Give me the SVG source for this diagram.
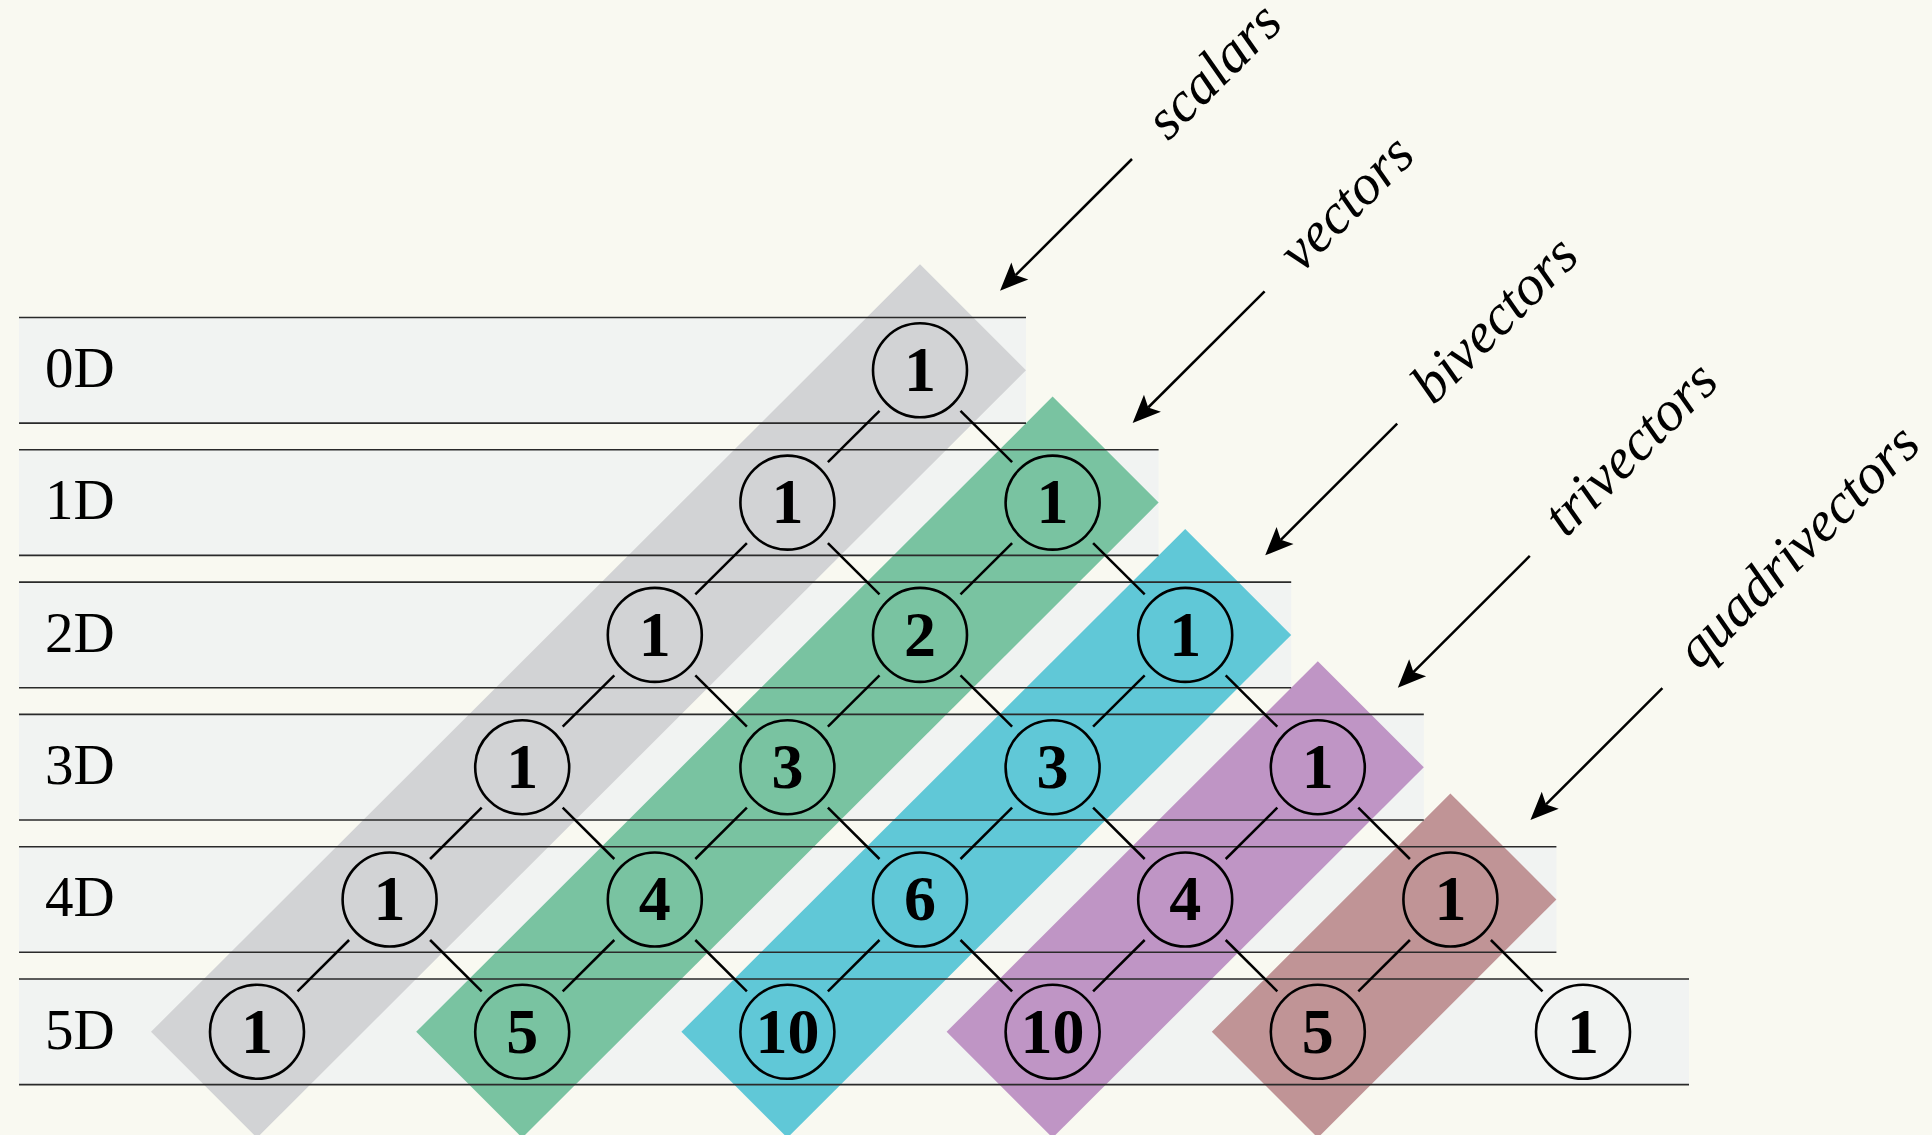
<svg xmlns="http://www.w3.org/2000/svg" width="1932" height="1135" viewBox="0 0 1932 1135">
<style>
.band{fill:#f1f3f2}
.bl{stroke:#2a2a2a;stroke-width:1.6;fill:none}
.s0{fill:#d2d3d5}.s1{fill:#79c3a1}.s2{fill:#60c8d7}.s3{fill:#bf95c5}.s4{fill:#c09496}
.node circle{fill:none;stroke:#000;stroke-width:2.6}
.node text{font-family:"Liberation Serif","Times New Roman",serif;font-weight:bold;font-size:64px;text-anchor:middle;fill:#000}
.row{font-family:"Liberation Serif","Times New Roman",serif;font-size:57px;fill:#000}
.lab{font-family:"Liberation Serif","Times New Roman",serif;font-style:italic;font-size:57px;fill:#000}
#connectors line{stroke:#000;stroke-width:2.5}
.arr{stroke:#000;stroke-width:2.5;fill:none;marker-end:url(#ah)}
</style>
<defs>
<marker id="ah" markerUnits="userSpaceOnUse" viewBox="-10 -15 35 30" markerWidth="35" markerHeight="30" refX="0" refY="0" orient="auto" overflow="visible">
<path d="M22,0 L-6,-12 L0,0 L-6,12 Z" fill="#000"/>
</marker>
</defs>
<rect width="1932" height="1135" fill="#f9f9f1"/>
<g id="bands">
<rect class="band" x="19" y="317.5" width="1007" height="105.6"/>
<rect class="band" x="19" y="449.8" width="1139.6" height="105.6"/>
<rect class="band" x="19" y="582.1" width="1272.2" height="105.6"/>
<rect class="band" x="19" y="714.4" width="1404.8" height="105.6"/>
<rect class="band" x="19" y="846.7" width="1537.4" height="105.6"/>
<rect class="band" x="19" y="979" width="1670" height="105.6"/>
</g>
<g id="strips">
<polygon class="s0" points="920,264.3 1026,370.3 257,1137.8 151,1031.8"/>
<polygon class="s1" points="1052.6,396.6 1158.6,502.6 522.2,1137.8 416.2,1031.8"/>
<polygon class="s2" points="1185.2,528.9 1291.2,634.9 787.4,1137.8 681.4,1031.8"/>
<polygon class="s3" points="1317.8,661.2 1423.8,767.2 1052.6,1137.8 946.6,1031.8"/>
<polygon class="s4" points="1450.4,793.5 1556.4,899.5 1317.8,1137.8 1211.8,1031.8"/>
</g>
<g id="bandlines">
<path class="bl" d="M19,317.5H1026M19,423.1H1026M19,449.8H1158.6M19,555.4H1158.6M19,582.1H1291.2M19,687.7H1291.2M19,714.4H1423.8M19,820H1423.8M19,846.7H1556.4M19,952.3H1556.4M19,979H1689M19,1084.6H1689"/>
</g>
<g id="rowlabels">
<text class="row" x="45" y="387">0D</text>
<text class="row" x="45" y="519.3">1D</text>
<text class="row" x="45" y="651.6">2D</text>
<text class="row" x="45" y="783.9">3D</text>
<text class="row" x="45" y="916.2">4D</text>
<text class="row" x="45" y="1048.5">5D</text>
</g>
<g id="connectors">
<line x1="879.5" y1="410.8" x2="827.9" y2="462.1"/>
<line x1="960.5" y1="410.8" x2="1012.1" y2="462.1"/>
<line x1="746.9" y1="543.1" x2="695.3" y2="594.4"/>
<line x1="827.9" y1="543.1" x2="879.5" y2="594.4"/>
<line x1="1012.1" y1="543.1" x2="960.5" y2="594.4"/>
<line x1="1093.1" y1="543.1" x2="1144.7" y2="594.4"/>
<line x1="614.3" y1="675.4" x2="562.7" y2="726.7"/>
<line x1="695.3" y1="675.4" x2="746.9" y2="726.7"/>
<line x1="879.5" y1="675.4" x2="827.9" y2="726.7"/>
<line x1="960.5" y1="675.4" x2="1012.1" y2="726.7"/>
<line x1="1144.7" y1="675.4" x2="1093.1" y2="726.7"/>
<line x1="1225.7" y1="675.4" x2="1277.3" y2="726.7"/>
<line x1="481.7" y1="807.7" x2="430.1" y2="859"/>
<line x1="562.7" y1="807.7" x2="614.3" y2="859"/>
<line x1="746.9" y1="807.7" x2="695.3" y2="859"/>
<line x1="827.9" y1="807.7" x2="879.5" y2="859"/>
<line x1="1012.1" y1="807.7" x2="960.5" y2="859"/>
<line x1="1093.1" y1="807.7" x2="1144.7" y2="859"/>
<line x1="1277.3" y1="807.7" x2="1225.7" y2="859"/>
<line x1="1358.3" y1="807.7" x2="1409.9" y2="859"/>
<line x1="349.1" y1="940" x2="297.5" y2="991.3"/>
<line x1="430.1" y1="940" x2="481.7" y2="991.3"/>
<line x1="614.3" y1="940" x2="562.7" y2="991.3"/>
<line x1="695.3" y1="940" x2="746.9" y2="991.3"/>
<line x1="879.5" y1="940" x2="827.9" y2="991.3"/>
<line x1="960.5" y1="940" x2="1012.1" y2="991.3"/>
<line x1="1144.7" y1="940" x2="1093.1" y2="991.3"/>
<line x1="1225.7" y1="940" x2="1277.3" y2="991.3"/>
<line x1="1409.9" y1="940" x2="1358.3" y2="991.3"/>
<line x1="1490.9" y1="940" x2="1542.5" y2="991.3"/>
</g>
<g id="n0_0" class="node"><circle cx="920" cy="370.3" r="47"/><text x="920" y="391">1</text></g>
<g id="n1_0" class="node"><circle cx="787.4" cy="502.6" r="47"/><text x="787.4" y="523.3">1</text></g>
<g id="n1_1" class="node"><circle cx="1052.6" cy="502.6" r="47"/><text x="1052.6" y="523.3">1</text></g>
<g id="n2_0" class="node"><circle cx="654.8" cy="634.9" r="47"/><text x="654.8" y="655.6">1</text></g>
<g id="n2_1" class="node"><circle cx="920" cy="634.9" r="47"/><text x="920" y="655.6">2</text></g>
<g id="n2_2" class="node"><circle cx="1185.2" cy="634.9" r="47"/><text x="1185.2" y="655.6">1</text></g>
<g id="n3_0" class="node"><circle cx="522.2" cy="767.2" r="47"/><text x="522.2" y="787.9">1</text></g>
<g id="n3_1" class="node"><circle cx="787.4" cy="767.2" r="47"/><text x="787.4" y="787.9">3</text></g>
<g id="n3_2" class="node"><circle cx="1052.6" cy="767.2" r="47"/><text x="1052.6" y="787.9">3</text></g>
<g id="n3_3" class="node"><circle cx="1317.8" cy="767.2" r="47"/><text x="1317.8" y="787.9">1</text></g>
<g id="n4_0" class="node"><circle cx="389.6" cy="899.5" r="47"/><text x="389.6" y="920.2">1</text></g>
<g id="n4_1" class="node"><circle cx="654.8" cy="899.5" r="47"/><text x="654.8" y="920.2">4</text></g>
<g id="n4_2" class="node"><circle cx="920" cy="899.5" r="47"/><text x="920" y="920.2">6</text></g>
<g id="n4_3" class="node"><circle cx="1185.2" cy="899.5" r="47"/><text x="1185.2" y="920.2">4</text></g>
<g id="n4_4" class="node"><circle cx="1450.4" cy="899.5" r="47"/><text x="1450.4" y="920.2">1</text></g>
<g id="n5_0" class="node"><circle cx="257" cy="1031.8" r="47"/><text x="257" y="1052.5">1</text></g>
<g id="n5_1" class="node"><circle cx="522.2" cy="1031.8" r="47"/><text x="522.2" y="1052.5">5</text></g>
<g id="n5_2" class="node"><circle cx="787.4" cy="1031.8" r="47"/><text x="787.4" y="1052.5">10</text></g>
<g id="n5_3" class="node"><circle cx="1052.6" cy="1031.8" r="47"/><text x="1052.6" y="1052.5">10</text></g>
<g id="n5_4" class="node"><circle cx="1317.8" cy="1031.8" r="47"/><text x="1317.8" y="1052.5">5</text></g>
<g id="n5_5" class="node"><circle cx="1583" cy="1031.8" r="47"/><text x="1583" y="1052.5">1</text></g>
<g id="arrows">
<line class="arr" x1="1132" y1="159" x2="1015.6" y2="275.2"/>
<line class="arr" x1="1264.6" y1="291.3" x2="1148.2" y2="407.5"/>
<line class="arr" x1="1397.2" y1="423.6" x2="1280.8" y2="539.8"/>
<line class="arr" x1="1529.8" y1="555.9" x2="1413.4" y2="672.1"/>
<line class="arr" x1="1662.4" y1="688.2" x2="1546" y2="804.4"/>
</g>
<g id="labels">
<text class="lab" transform="translate(1168.3,141.7) rotate(-45)">scalars</text>
<text class="lab" transform="translate(1300.9,274) rotate(-45)">vectors</text>
<text class="lab" transform="translate(1433.5,406.3) rotate(-45)">bivectors</text>
<text class="lab" transform="translate(1566.1,538.6) rotate(-45)">trivectors</text>
<text class="lab" transform="translate(1698.7,670.9) rotate(-45)">quadrivectors</text>
</g>
</svg>
